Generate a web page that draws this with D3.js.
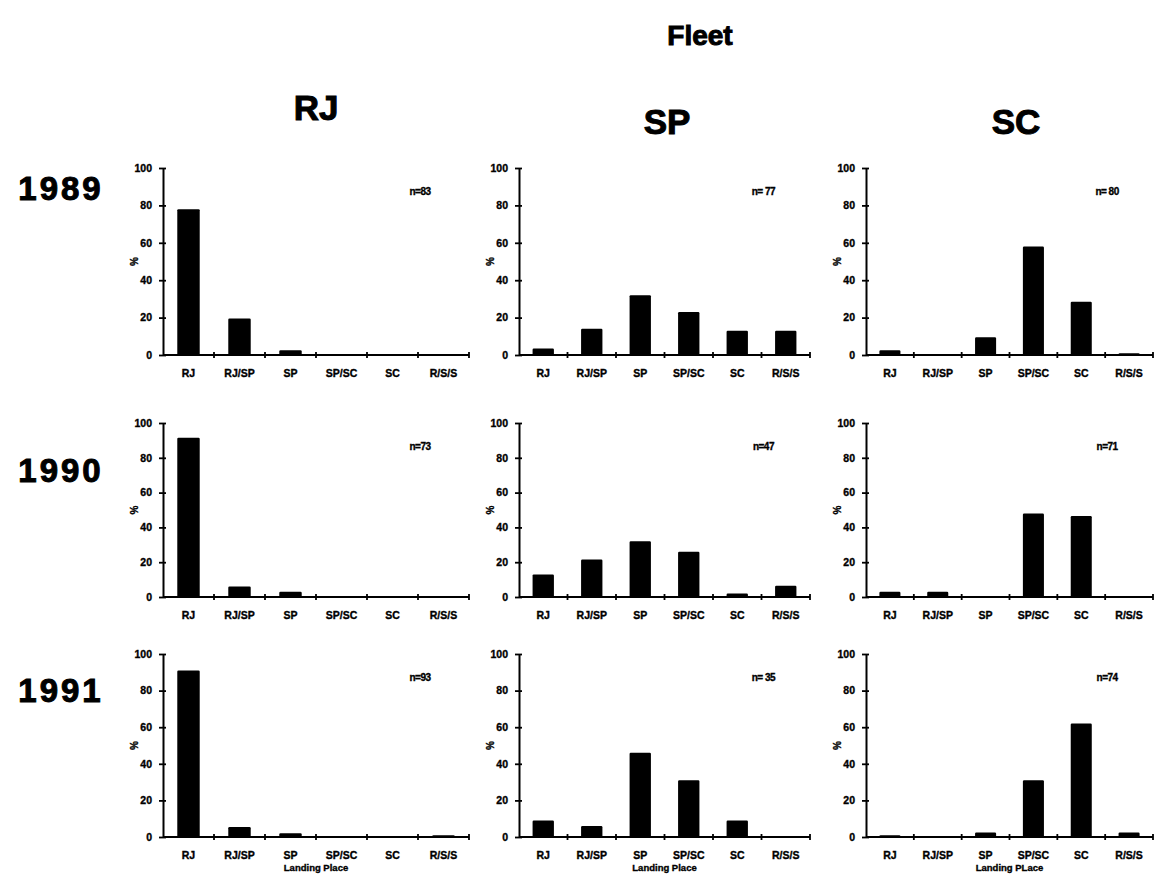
<!DOCTYPE html>
<html>
<head>
<meta charset="utf-8">
<script src="https://cdn.jsdelivr.net/npm/d3@7"></script>
<style>
  html, body { margin: 0; padding: 0; background: #fff; }
  svg { display: block; font-family: "Liberation Sans", Arial, sans-serif; font-weight: 700; }
  text { fill: #000; stroke: #000; stroke-width: 0.35px; }
  .big { stroke-width: 1px; }
</style>
</head>
<body>
<svg id="chart" width="1160" height="881"></svg>
<script>
// Landing place distribution (%) by fleet and year
const fleets = ["RJ", "SP", "SC"];
const years = ["1989", "1990", "1991"];
const places = ["RJ", "RJ/SP", "SP", "SP/SC", "SC", "R/S/S"];
const yTicks = [0, 20, 40, 60, 80, 100];

// one row per year (1989, 1990, 1991), one value per landing place
const fleetRJ = [
  [78, 19.5, 2.5, 0, 0, 0],
  [91.5, 6, 3, 0, 0, 0],
  [91, 5.5, 2, 0, 0, 1]
];
const fleetSP = [
  [3.5, 14, 32, 23, 13, 13],
  [13, 21.5, 32, 26, 2, 6.5],
  [9, 6, 46, 31, 9, 0]
];
const fleetSC = [
  [2.5, 0, 9.5, 58, 28.5, 1],
  [3, 3, 0.3, 48, 46.5, 0],
  [1, 0, 2.5, 31, 62, 2.5]
];
// sample sizes, by year within each fleet
const sampleRJ = ["n=83", "n=73", "n=93"];
const sampleSP = ["n= 77", "n=47", "n= 35"];
const sampleSC = ["n= 80", "n=71", "n=74"];
const axisTitles = ["Landing Place", "Landing Place", "Landing PLace"];

const seriesByFleet = [fleetRJ, fleetSP, fleetSC];
const samplesByFleet = [sampleRJ, sampleSP, sampleSC];

const svg = d3.select("#chart");

// layout of the 3x3 grid of small panels
const colX = [163, 519, 866];      // y-axis position of each column
const colW = [306, 291, 287];      // x-axis length of each column
const rowTop = [168, 423, 654];    // y of the 100% tick
const rowZero = [355, 597, 837];   // y of the 0% baseline
const colTitleX = [316, 667, 1016];
const colTitleY = [120, 134, 134];
const rowTitleY = [200, 482, 702];

// overall heading
svg.append("text")
  .attr("class", "big")
  .attr("x", 700).attr("y", 45)
  .attr("text-anchor", "middle")
  .style("font-size", "28px")
  .text("Fleet");

fleets.forEach((f, c) => {
  svg.append("text")
    .attr("class", "big")
    .attr("x", colTitleX[c]).attr("y", colTitleY[c])
    .attr("text-anchor", "middle")
    .style("font-size", "35px")
    .text(f);
});

years.forEach((yr, r) => {
  svg.append("text")
    .attr("class", "big")
    .attr("x", 61).attr("y", rowTitleY[r])
    .attr("text-anchor", "middle")
    .style("font-size", "33px")
    .style("letter-spacing", "3px")
    .text(yr);
});

fleets.forEach((f, c) => {
  years.forEach((yr, r) => {
    const values = seriesByFleet[c][r];
    const x0 = colX[c], w = colW[c];
    const top = rowTop[r], zero = rowZero[r];

    const x = d3.scaleBand()
      .domain(places)
      .range([x0, x0 + w])
      .paddingInner(0.56)
      .paddingOuter(0.28);
    const y = d3.scaleLinear().domain([0, 100]).range([zero, top]);

    const g = svg.append("g");

    // bars
    g.selectAll("rect")
      .data(values)
      .join("rect")
      .attr("x", (d, i) => x(places[i]))
      .attr("width", x.bandwidth())
      .attr("y", d => y(d))
      .attr("height", d => zero - y(d))
      .attr("rx", 1.2)
      .attr("fill", "#000");

    // y axis
    const yAxis = d3.axisLeft(y)
      .tickValues(yTicks)
      .tickSize(4)
      .tickPadding(7)
      .tickSizeOuter(0);
    const ya = g.append("g")
      .attr("transform", `translate(${x0},0)`)
      .call(yAxis);
    ya.select(".domain").attr("stroke", "#000").attr("stroke-width", 2);
    ya.selectAll(".tick line").attr("x2", 3).attr("x1", -4).attr("stroke-width", 1.8);
    ya.selectAll(".tick text")
      .style("font-size", "10.5px")
      .style("font-weight", 700)
      .style("font-family", "'Liberation Sans', Arial, sans-serif");

    // x axis: ticks at the category boundaries
    const bounds = places.map((p, i) => x0 + (w / places.length) * (i + 1));
    g.append("line")
      .attr("x1", x0).attr("x2", x0 + w)
      .attr("y1", zero).attr("y2", zero)
      .attr("stroke", "#000").attr("stroke-width", 2);
    g.selectAll(".xtick")
      .data(bounds)
      .join("line")
      .attr("class", "xtick")
      .attr("x1", d => d).attr("x2", d => d)
      .attr("y1", zero - 3).attr("y2", zero + 3)
      .attr("stroke", "#000").attr("stroke-width", 1.8);

    // category labels
    g.selectAll(".xlab")
      .data(places)
      .join("text")
      .attr("class", "xlab")
      .attr("x", d => x(d) + x.bandwidth() / 2)
      .attr("y", zero + 22)
      .attr("text-anchor", "middle")
      .style("font-size", "10.5px")
      .text(d => d);

    // % label
    g.append("text")
      .attr("transform", `translate(${x0 - 25},${(top + zero) / 2}) rotate(-90)`)
      .attr("text-anchor", "middle")
      .style("font-size", "10px")
      .text("%");

    // sample size
    g.append("text")
      .attr("x", x0 + w * 0.84)
      .attr("y", top + 27)
      .attr("text-anchor", "middle")
      .style("font-size", "10px")
      .style("letter-spacing", "-0.5px")
      .text(samplesByFleet[c][r]);

    if (r === years.length - 1) {
      g.append("text")
        .attr("x", x0 + w / 2)
        .attr("y", zero + 34)
        .attr("text-anchor", "middle")
        .style("font-size", "9.5px")
        .text(axisTitles[c]);
    }
  });
});
</script>
</body>
</html>
